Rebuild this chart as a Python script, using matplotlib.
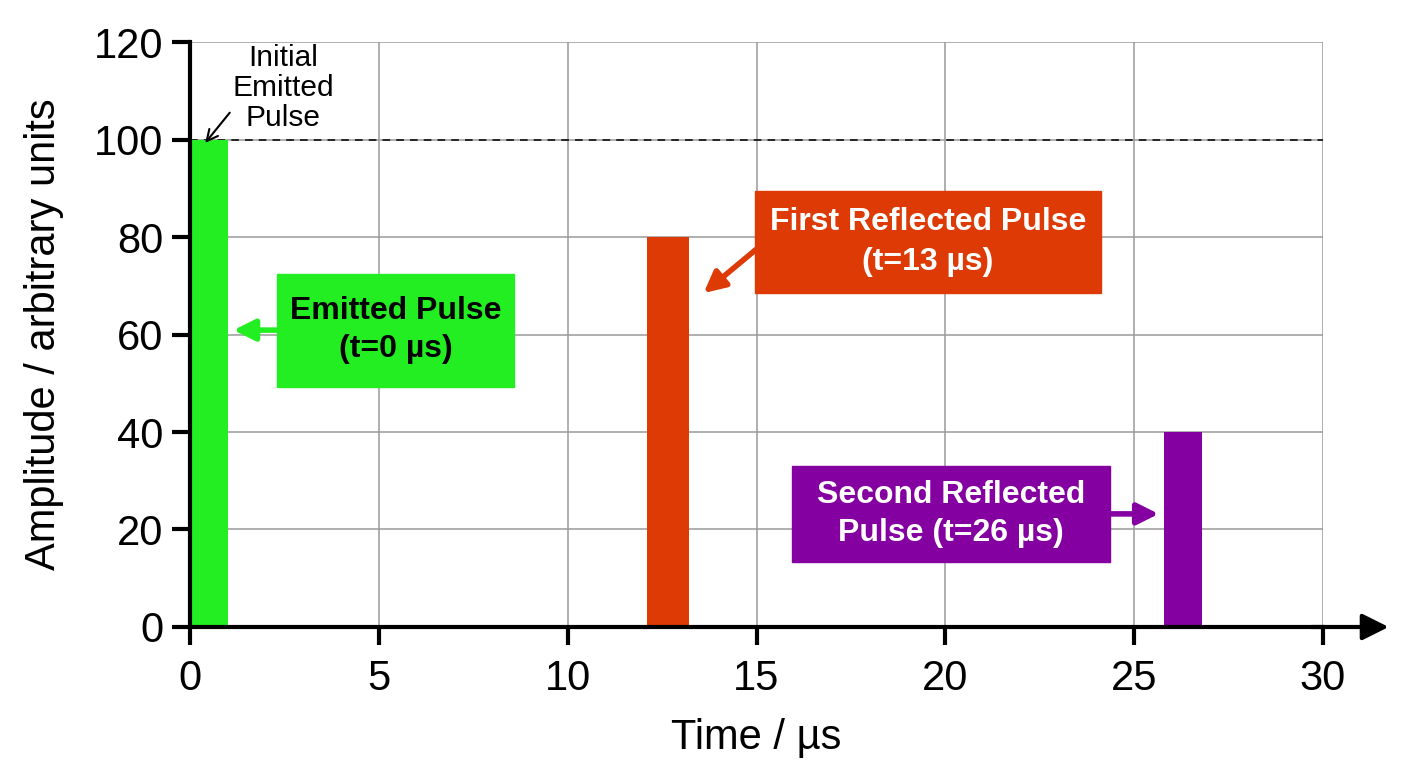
import matplotlib
matplotlib.use("Agg")
import matplotlib.pyplot as plt
from matplotlib.patches import Rectangle

plt.rcParams['font.family'] = ['Liberation Sans', 'DejaVu Sans']

# pulse data
pulse_names = ["Emitted", "First Reflected", "Second Reflected"]
pulse_start = [0.0, 12.1, 25.8]      # µs
pulse_duration = [1.0, 1.1, 1.0]     # µs
pulse_amplitude = [100, 80, 40]
pulse_colors = ["#22ee22", "#dd3a06", "#8400a0"]

x_ticks = [0, 5, 10, 15, 20, 25, 30]
y_ticks = [0, 20, 40, 60, 80, 100, 120]
reference_level = 100

fig = plt.figure(figsize=(14.08, 7.68), dpi=100)
ax = fig.add_axes([0.135, 0.1836, 0.8046, 0.7617])

ax.bar(pulse_start, pulse_amplitude, width=pulse_duration, align='edge',
       color=pulse_colors, zorder=3)

ax.set_xlim(0, 30)
ax.set_ylim(0, 120)
ax.set_xticks(x_ticks)
ax.set_yticks(y_ticks)
ax.grid(True, color='#9a9a9a', linewidth=1.1, zorder=0)
ax.set_axisbelow(True)

for s in ['top', 'right']:
    ax.spines[s].set_visible(False)
for s in ['left', 'bottom']:
    ax.spines[s].set_linewidth(3)
    ax.spines[s].set_zorder(4)
ax.tick_params(axis='both', length=13, width=3, labelsize=30)
ax.tick_params(axis='x', pad=10)
ax.tick_params(axis='y', pad=6)

# x-axis arrow beyond 30
ax.annotate('', xy=(1.058, 0), xytext=(0.99, 0), xycoords='axes fraction',
            arrowprops=dict(arrowstyle='-|>', lw=3, color='black',
                            mutation_scale=40, shrinkA=0, shrinkB=0),
            annotation_clip=False)

ax.axhline(reference_level, color='black', lw=1.1, ls=(0, (5, 4)), zorder=2)

ax.set_xlabel("Time / µs", fontsize=30, labelpad=14)
ax.set_ylabel("Amplitude / arbitrary units", fontsize=30, labelpad=22)

# small label for the initial pulse
ax.text(2.46, 110.6, "Initial\nEmitted\nPulse", fontsize=21.5, ha='center',
        va='center', linespacing=1.1)
ax.annotate('', xy=(0.4, 99.3), xytext=(1.05, 105.5),
            arrowprops=dict(arrowstyle='->', lw=1.5, color='black',
                            mutation_scale=20, shrinkA=0, shrinkB=0))

# Emitted pulse box
ax.add_patch(Rectangle((2.29, 49.3), 6.3, 23.2, color=pulse_colors[0], zorder=5))
ax.text(5.45, 60.9, "Emitted Pulse\n(t=0 µs)", fontsize=23, fontweight='bold',
        ha='center', va='center', color='black', zorder=6, linespacing=1.35)
ax.annotate('', xy=(1.15, 60.9), xytext=(2.3, 60.9),
            arrowprops=dict(arrowstyle='-|>', lw=4, color=pulse_colors[0],
                            mutation_scale=32, shrinkA=0, shrinkB=0), zorder=5)

# First reflected box
ax.add_patch(Rectangle((14.96, 68.6), 9.16, 20.9, color=pulse_colors[1], zorder=5))
ax.text(19.54, 79.0, "First Reflected Pulse\n(t=13 µs)", fontsize=23,
        fontweight='bold', ha='center', va='center',
        color='white', zorder=6, linespacing=1.45)
ax.annotate('', xy=(13.6, 68.5), xytext=(14.98, 77.4),
            arrowprops=dict(arrowstyle='-|>', lw=4, color=pulse_colors[1],
                            mutation_scale=32, shrinkA=0, shrinkB=0), zorder=5)

# Second reflected box
ax.add_patch(Rectangle((15.94, 13.4), 8.42, 19.7, color=pulse_colors[2], zorder=5))
ax.text(20.15, 23.2, "Second Reflected\nPulse (t=26 µs)", fontsize=23,
        fontweight='bold', ha='center', va='center',
        color='white', zorder=6, linespacing=1.35)
ax.annotate('', xy=(25.65, 23.2), xytext=(24.34, 23.2),
            arrowprops=dict(arrowstyle='-|>', lw=4, color=pulse_colors[2],
                            mutation_scale=32, shrinkA=0, shrinkB=0), zorder=5)

fig.savefig("out.png", dpi=100)
